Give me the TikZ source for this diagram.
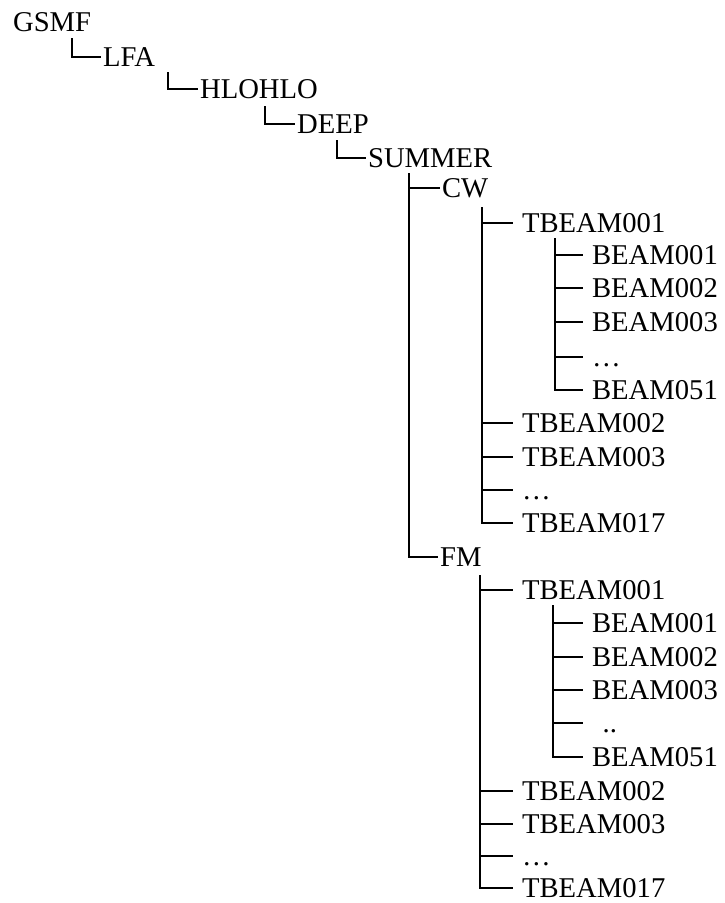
\documentclass[tikz,border=0pt]{standalone}
\usepackage{fontspec}
\setmainfont{Liberation Serif}
\tikzset{
  dir/.style={anchor=west, inner xsep=1pt, inner ysep=0pt, text height=11pt, text depth=0pt, font=\fontsize{16.3}{19}\selectfont},
  leaf/.style={dir, inner xsep=5pt},
  branch/.style={line width=1.2pt}
}
\begin{document}
\begin{tikzpicture}[x=0.02cm, y=-0.02cm]
\useasboundingbox (0,0) rectangle (724,903);
% path down to SUMMER
\node[dir] (gsmf) at (11,22) {GSMF};
\node[dir] (lfa) at (101,57) {LFA};
\node[dir] (hlohlo) at (198,89) {HLOHLO};
\node[dir] (deep) at (295,124) {DEEP};
\node[dir] (summer) at (366,158) {SUMMER};
\coordinate (lfatop) at (72,38);
\coordinate (hlotop) at (168,72);
\coordinate (deeptop) at (265,106);
\coordinate (sumtop) at (337,140);
\draw[branch] (lfatop) |- (lfa.west);
\draw[branch] (hlotop) |- (hlohlo.west);
\draw[branch] (deeptop) |- (deep.west);
\draw[branch] (sumtop) |- (summer.west);
% CW and FM
\node[dir] (cw) at (440,188) {CW};
\node[dir] (fm) at (438,557) {FM};
\coordinate (setop) at (409,173);
\draw[branch] (setop) |- (cw.west);
\draw[branch] (setop) |- (fm.west);
% CW branch
\coordinate (cwtop) at (482,207);
\foreach \n/\y/\t in {1/223/TBEAM001, 2/423/TBEAM002, 3/457/TBEAM003, 4/490/{\dots}, 5/523/TBEAM017}
{
  \node[leaf] (cwt\n) at (513,\y) {\t};
  \draw[branch] (cwtop) |- (cwt\n.west);
}
\coordinate (cwbtop) at (555,238);
\foreach \n/\y/\t in {1/255/BEAM001, 2/288/BEAM002, 3/322/BEAM003, 4/357/{\dots}, 5/390/BEAM051}
{
  \node[leaf] (cwb\n) at (583,\y) {\t};
  \draw[branch] (cwbtop) |- (cwb\n.west);
}
% FM branch
\coordinate (fmtop) at (480,575);
\foreach \n/\y/\t in {1/590/TBEAM001, 2/791/TBEAM002, 3/824/TBEAM003, 4/856/{\dots}, 5/888/TBEAM017}
{
  \node[leaf] (fmt\n) at (513,\y) {\t};
  \draw[branch] (fmtop) |- (fmt\n.west);
}
\coordinate (fmbtop) at (553,605);
\foreach \n/\y/\t in {1/623/BEAM001, 2/657/BEAM002, 3/690/BEAM003, 4/723/{\hspace{6pt}..}, 5/757/BEAM051}
{
  \node[leaf] (fmb\n) at (583,\y) {\t};
  \draw[branch] (fmbtop) |- (fmb\n.west);
}
\end{tikzpicture}
\end{document}
